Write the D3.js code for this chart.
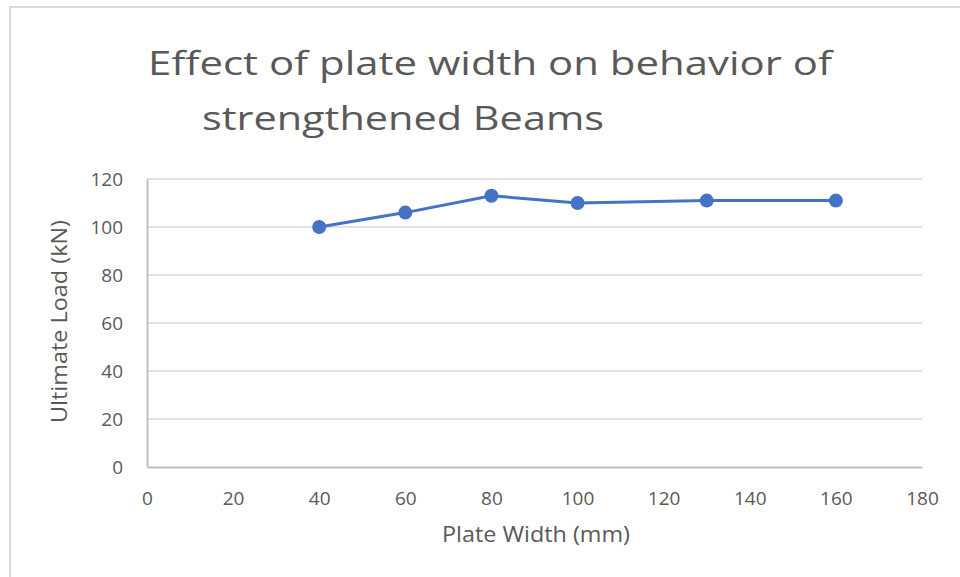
<!DOCTYPE html>
<html>
<head>
    <meta charset="utf-8">
    <title>Effect of plate width</title>
    <script src="https://d3js.org/d3.v7.min.js"></script>
    <style>
        body { margin: 0; background: white; }
        svg text { font-family: "Open Sans", sans-serif; fill: #595959; }
        .tick text { font-size: 19px; }
    </style>
</head>
<body>
    <div class="container"></div>
    <script>
        // data
        let plateWidth = [40, 60, 80, 100, 130, 160];
        let ultimateLoad = [100, 106, 113, 110, 111, 111];
        let xTicks = [0, 20, 40, 60, 80, 100, 120, 140, 160, 180];
        let yTicks = [0, 20, 40, 60, 80, 100, 120];
        let titleLines = ["Effect of plate width on behavior of", "strengthened Beams"];

        let W = 960, H = 577;
        let svg = d3.select(".container").append("svg").attr("width", W).attr("height", H);

        // chart frame (only left and top edges visible in the crop)
        svg.append("rect")
            .attr("x", 10).attr("y", 7)
            .attr("width", 980).attr("height", 600)
            .attr("fill", "white")
            .attr("stroke", "#d9d9d9")
            .attr("stroke-width", 2);

        let x = d3.scaleLinear().domain([0, 180]).range([147, 922]);
        let y = d3.scaleLinear().domain([0, 120]).range([467, 179]);

        // gridlines
        svg.append("g")
            .selectAll("line")
            .data(yTicks.filter(d => d > 0))
            .enter().append("line")
            .attr("x1", x(0)).attr("x2", x(180))
            .attr("y1", d => y(d)).attr("y2", d => y(d))
            .attr("stroke", "#d9d9d9")
            .attr("stroke-width", 1.5);

        // axes
        let xAxis = svg.append("g")
            .attr("transform", "translate(0," + y(0) + ")")
            .call(d3.axisBottom(x).tickValues(xTicks).tickSize(0).tickPadding(25));
        xAxis.select(".domain").attr("stroke", "#bfbfbf").attr("stroke-width", 2);

        let yAxis = svg.append("g")
            .attr("transform", "translate(" + x(0) + ",0)")
            .call(d3.axisLeft(y).tickValues(yTicks).tickSize(0).tickPadding(24));
        yAxis.select(".domain").attr("stroke", "#bfbfbf").attr("stroke-width", 2);
        yAxis.selectAll(".tick text").attr("dy", "0.35em");

        svg.selectAll(".tick text").attr("fill", "#595959");

        // line + markers
        let pts = plateWidth.map((d, i) => [d, ultimateLoad[i]]);
        let line = d3.line().x(d => x(d[0])).y(d => y(d[1]));

        svg.append("path")
            .datum(pts)
            .attr("d", line)
            .attr("fill", "none")
            .attr("stroke", "#4472c4")
            .attr("stroke-width", 3);

        svg.append("g")
            .selectAll("circle")
            .data(pts)
            .enter().append("circle")
            .attr("cx", d => x(d[0]))
            .attr("cy", d => y(d[1]))
            .attr("r", 7)
            .attr("fill", "#4472c4");

        // title
        svg.append("text")
            .text(titleLines[0])
            .attr("x", 148).attr("y", 75)
            .attr("textLength", 684)
            .attr("lengthAdjust", "spacingAndGlyphs")
            .style("font-size", "33px");
        svg.append("text")
            .text(titleLines[1])
            .attr("x", 202).attr("y", 130)
            .attr("textLength", 402)
            .attr("lengthAdjust", "spacingAndGlyphs")
            .style("font-size", "33px");

        // axis titles
        svg.append("text")
            .text("Plate Width (mm)")
            .attr("x", 442).attr("y", 542)
            .attr("textLength", 188)
            .attr("lengthAdjust", "spacingAndGlyphs")
            .style("font-size", "21px");

        svg.append("text")
            .text("Ultimate Load (kN)")
            .attr("transform", "translate(67,423) rotate(-90)")
            .attr("textLength", 203)
            .attr("lengthAdjust", "spacingAndGlyphs")
            .style("font-size", "21px");
    </script>
</body>
</html>
